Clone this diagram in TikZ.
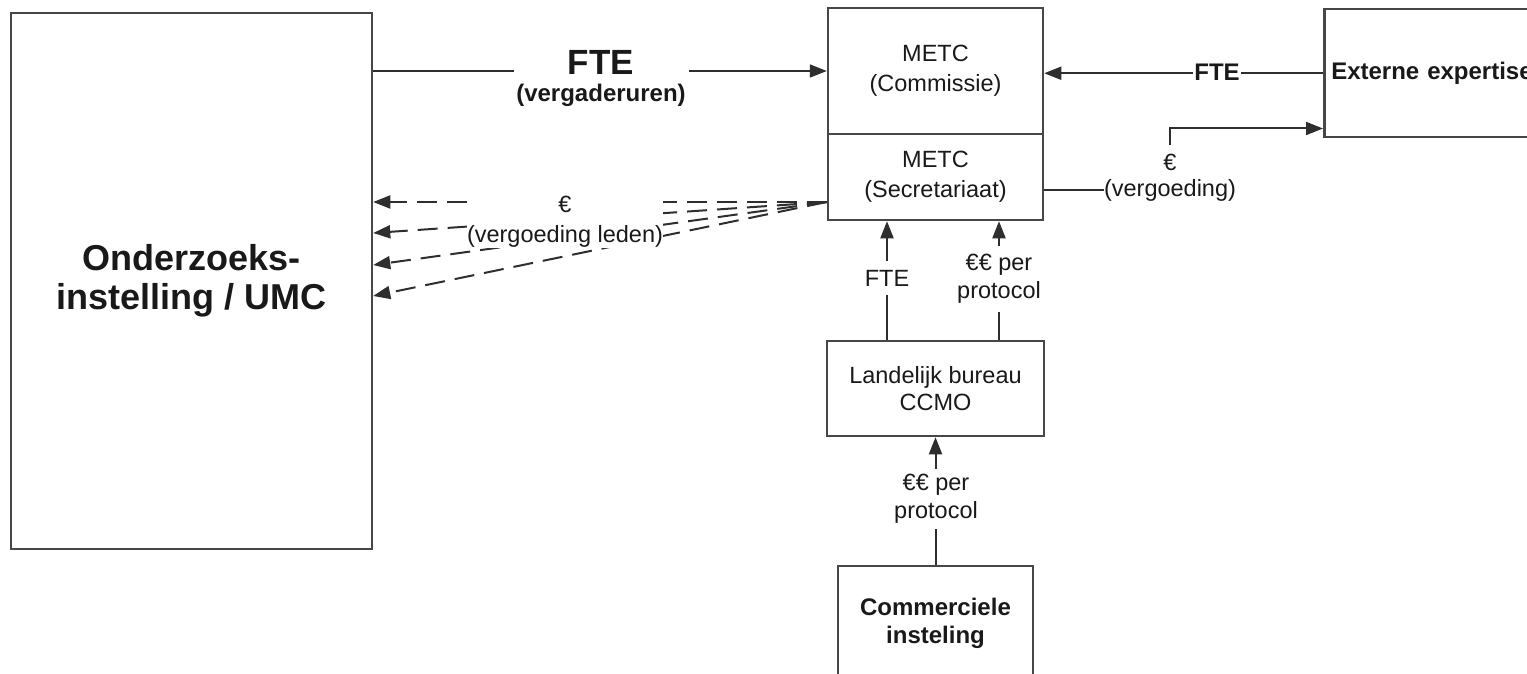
\documentclass[tikz,border=0pt]{standalone}
\usepackage{fontspec}
\setmainfont{Liberation Sans}
\usetikzlibrary{arrows.meta}
\begin{document}
\begin{tikzpicture}[x=1pt,y=-1pt,
  box/.style={draw=black!72,line width=2.5pt,inner sep=0pt,align=center,text=black!90},
  reg/.style={font=\fontsize{23.5}{28}\selectfont},
  bld/.style={font=\bfseries\fontsize{24}{28}\selectfont},
  conn/.style={draw=black!82,line width=2pt},
  arr/.style={conn,-{Triangle[length=17pt,width=13pt]}},
  lbl/.style={fill=white,text=black!90,align=center,inner sep=0pt},
  dsh/.style={arr,dash pattern=on 20pt off 10pt},
]
\useasboundingbox (0,0) rectangle (1527,674);
\clip (0,0) rectangle (1527,674);

% boxes
\node[box,font=\bfseries\fontsize{36}{39}\selectfont,minimum width=361pt,minimum height=536pt] (umc) at (191.5,281) {Onderzoeks-\\instelling / UMC};
\node[box,font=\fontsize{23.5}{30}\selectfont,minimum width=215pt,minimum height=126pt] (metcC) at (935.5,71) {METC\\(Commissie)};
\node[box,font=\fontsize{23.5}{30}\selectfont,minimum width=215pt,minimum height=86pt] (metcS) at (935.5,177) {METC\\(Secretariaat)};
\node[box,font=\fontsize{23.5}{27}\selectfont,minimum width=217pt,minimum height=95pt] (ccmo) at (935.5,388.5) {Landelijk bureau\\CCMO};
\node[box,bld,minimum width=195pt,minimum height=114pt] (comm) at (935.5,623) {Commerciele\\insteling};
\node[box,bld,anchor=north west,text width=212pt,inner xsep=7pt,minimum height=128pt,align=left] (ext) at (1323,8) {Externe expertise};

% FTE (vergaderuren)
\draw[arr] (metcC.west -| umc.east) -- (metcC.west);
\node[lbl,font=\bfseries\fontsize{35}{36}\selectfont,minimum width=175pt,inner ysep=4pt] (fteA) at (601,62) {FTE};
\node[lbl,font=\bfseries\fontsize{24}{28}\selectfont] (vergA) at (601,95) {(vergaderuren)};

% FTE from external expertise
\draw[arr] (ext.west) -- (metcC.east |- ext.west);
\node[lbl,bld,inner xsep=1pt] (fteB) at (1217,72) {FTE};

% euro (vergoeding)
\node[reg,text=black!90,inner sep=0pt] (vergB) at (1170,190) {(vergoeding)};
\node[reg,text=black!90,inner xsep=0pt,inner ysep=8pt] (euroB) at (1170,162) {€};
\draw[conn] (metcS.east |- vergB.west) -- (vergB.west);
\draw[arr] (euroB.north) |- ([yshift=10pt]ext.south west);

% dashed fan to the research institution
\coordinate (dsrc) at ([yshift=-25pt]metcS.west);
\foreach \yy in {202,233,265,296}
  \draw[dsh] (dsrc) -- (umc.east |- 0,\yy);
\node[lbl,font=\fontsize{23.5}{30}\selectfont] (vergL) at (565,222) {€\\(vergoeding leden)};

% vertical arrows
\draw[arr] ([xshift=-48.5pt]ccmo.north) -- ([xshift=-48.5pt]metcS.south);
\node[lbl,reg,inner ysep=9pt] (fteC) at (887,278) {FTE};
\draw[arr] ([xshift=63.5pt]ccmo.north) -- ([xshift=63.5pt]metcS.south);
\node[lbl,reg,inner ysep=8pt] (ppA) at (999,279) {€€ per\\protocol};
\draw[arr] (comm.north) -- (ccmo.south);
\node[lbl,reg,inner ysep=5pt] (ppB) at (936,499) {€€ per\\protocol};
\end{tikzpicture}
\end{document}
